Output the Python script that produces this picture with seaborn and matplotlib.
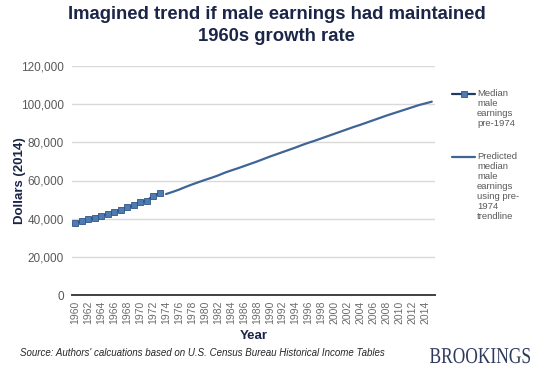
import matplotlib
matplotlib.use("Agg")
import matplotlib.pyplot as plt
import seaborn as sns
import pandas as pd
from matplotlib.lines import Line2D
from matplotlib.textpath import TextPath
from matplotlib.patches import PathPatch
from matplotlib.font_manager import FontProperties
from matplotlib.transforms import Affine2D

# actual median male earnings, 1960-1973 (2014 dollars)
years_actual = list(range(1960, 1974))
earnings_actual = [37600, 38800, 39600, 40500, 41600, 42300, 43700,
                   44400, 45900, 47000, 48900, 49300, 51900, 53300]

# predicted using pre-1974 trendline, 1974-2015
years_pred = list(range(1974, 2016))
earnings_pred = [52900, 54000, 55200, 56600, 57900, 59100, 60300, 61400,
                 62600, 64000, 65200, 66300, 67500, 68700, 69900, 71200,
                 72500, 73700, 74900, 76100, 77300, 78600, 79800, 80900,
                 82100, 83300, 84500, 85700, 86900, 88100, 89200, 90400,
                 91600, 92800, 94000, 95100, 96200, 97300, 98400, 99500,
                 100400, 101300]

tick_years = list(range(1960, 2016, 2))
legend_labels = ["Median\nmale\nearnings\npre-1974",
                 "Predicted\nmedian\nmale\nearnings\nusing pre-\n1974\ntrendline"]

navy = "#1b2547"
dark_line = "#1f3a66"
line_blue = "#3f6496"
marker_fill = "#4f7cb0"
grey_txt = "#595959"

df_a = pd.DataFrame({"Year": years_actual, "Dollars": earnings_actual})
df_p = pd.DataFrame({"Year": years_pred, "Dollars": earnings_pred})

sns.set_theme(style="white")
plt.rcParams["font.family"] = ["Liberation Sans", "DejaVu Sans"]

W, H = 553, 369
fig = plt.figure(figsize=(W / 100, H / 100), dpi=100)
ax = fig.add_axes([72 / W, 1 - 295 / H, 363 / W, 229 / H])

marker_kw = dict(marker="s", markersize=4.2, markerfacecolor=marker_fill,
                 markeredgecolor="#2f5588", markeredgewidth=0.6)
sns.lineplot(data=df_a, x="Year", y="Dollars", ax=ax, color=dark_line,
             lw=1.6, legend=False, **marker_kw)
sns.lineplot(data=df_p, x="Year", y="Dollars", ax=ax, color=line_blue,
             lw=1.6, legend=False)

ax.set_xlim(1959.5, 2015.5)
ax.set_ylim(0, 120000)
ax.set_yticks(range(0, 120001, 20000))
ax.set_yticklabels([f"{v:,}" for v in range(0, 120001, 20000)],
                   fontsize=8.5, color=grey_txt)
ax.set_xticks(tick_years)
ax.set_xticklabels([str(y) for y in tick_years], rotation=90,
                   fontsize=7.5, color="#6b6b6b")
ax.tick_params(axis="y", length=0, pad=6)
ax.tick_params(axis="x", length=0, pad=4)
ax.grid(axis="y", color="#d9d9d9", lw=1)
ax.grid(axis="x", visible=False)
for s in ["top", "right", "left"]:
    ax.spines[s].set_visible(False)
ax.spines["bottom"].set_color("#404040")
ax.spines["bottom"].set_linewidth(1.4)

ax.set_xlabel("Year", fontsize=9.5, fontweight="bold", color=navy)
ax.set_ylabel("Dollars (2014)", fontsize=9.5, fontweight="bold", color=navy)
ax.xaxis.set_label_coords(0.5, -0.155)
ax.yaxis.set_label_coords(-0.128, 0.5)

# legend drawn by hand so the key sits beside the first text line
key_x = [452 / W, 463.5 / W, 475 / W]
for i, (lbl, yy) in enumerate(zip(legend_labels, [94, 157])):
    if i == 0:
        key = Line2D(key_x, [1 - yy / H] * 3, lw=1.6, color=dark_line,
                     markevery=[1], **marker_kw)
    else:
        key = Line2D(key_x, [1 - yy / H] * 3, lw=1.6, color=line_blue)
    fig.add_artist(key)
    fig.text(477 / W, 1 - (yy - 5.2) / H, lbl, ha="left", va="top",
             fontsize=6.8, color=grey_txt, linespacing=1.15)

fig.text(0.5, 1 - 6 / H,
         "Imagined trend if male earnings had maintained\n1960s growth rate",
         ha="center", va="top", fontsize=13.3, fontweight="bold", color=navy,
         linespacing=1.38)
fig.text(20 / W, 1 - 353 / H,
         "Source: Authors' calcuations based on U.S. Census Bureau Historical Income Tables",
         ha="left", va="center", fontsize=7, style="italic", color="#262626")

# condensed serif wordmark
tp = TextPath((0, 0), "BROOKINGS", size=22.7,
              prop=FontProperties(family="Liberation Serif"))
bb = tp.get_extents()
sx = 100 / bb.width
tr = Affine2D().scale(sx, 1).translate(430 - bb.x0 * sx, H - 363)
fig.add_artist(PathPatch(tp, transform=tr, facecolor="#2e3a5c", lw=0))

fig.savefig("out.png", dpi=100)
